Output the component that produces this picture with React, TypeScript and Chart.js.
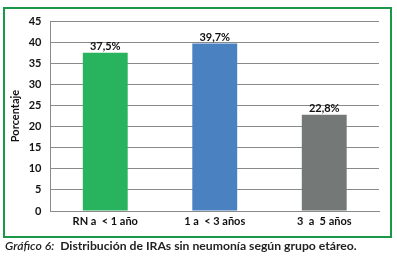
import React, { useEffect, useRef } from "react";
import { Chart, registerables } from "chart.js";

Chart.register(...registerables);

const categories = ["RN a  < 1 año", "1 a  < 3 años", "3  a  5 años"];
const values = [37.5, 39.7, 22.8];
const valueLabels = ["37,5%", "39,7%", "22,8%"];
const barColors = ["#28b35e", "#4a82c1", "#747978"];
const yTicks = [0, 5, 10, 15, 20, 25, 30, 35, 40, 45];

const FONT = "Lato, 'Open Sans', sans-serif";

const labelPlugin = {
  id: "valueLabels",
  afterDatasetsDraw(chart: any) {
    const { ctx } = chart;
    const meta = chart.getDatasetMeta(0);
    ctx.save();
    ctx.font = `bold 11px ${FONT}`;
    ctx.fillStyle = "#111";
    ctx.textAlign = "center";
    ctx.textBaseline = "bottom";
    meta.data.forEach((bar: any, i: number) => {
      ctx.fillText(valueLabels[i], bar.x, bar.y - 0.5);
    });
    ctx.restore();
  },
};

export default function App() {
  const ref = useRef<HTMLCanvasElement>(null);
  useEffect(() => {
    document.body.style.margin = "0";
    if (!ref.current) return;
    const chart = new Chart(ref.current, {
      type: "bar",
      data: {
        labels: categories,
        datasets: [
          {
            data: values,
            backgroundColor: barColors,
            barPercentage: 0.82,
            categoryPercentage: 0.5,
          },
        ],
      },
      options: {
        animation: false,
        responsive: false,
        maintainAspectRatio: false,
        layout: { padding: { left: 0, right: 18, top: 21, bottom: 30 } },
        plugins: { legend: { display: false }, tooltip: { enabled: false } },
        scales: {
          x: {
            grid: { display: false, drawTicks: false },
            border: { color: "#8a8a8a", width: 1 },
            ticks: {
              color: "#111",
              font: { family: FONT, size: 11, weight: "bold" },
              padding: 4,
            },
            afterFit: (s: any) => {
              s.height = 20;
            },
          },
          y: {
            min: 0,
            max: 45,
            afterBuildTicks: (s: any) => {
              s.ticks = yTicks.map((v) => ({ value: v }));
            },
            grid: { color: "#8a8a8a", lineWidth: 1, drawTicks: false },
            border: { color: "#8a8a8a", width: 1 },
            ticks: {
              color: "#111",
              font: { family: FONT, size: 11, weight: "bold" },
              padding: 9,
            },
            title: {
              display: true,
              text: "Porcentaje",
              color: "#111",
              font: { family: FONT, size: 11, weight: "bold" },
              padding: { top: 9, bottom: 0 },
            },
            afterFit: (s: any) => {
              s.width = 50.5;
            },
          },
        },
      },
      plugins: [labelPlugin],
    });
    return () => chart.destroy();
  }, []);

  return (
    <div style={{ position: "relative", width: 397, height: 261, background: "#fff" }}>
      <div
        style={{
          position: "absolute",
          left: 3,
          top: 7,
          width: 385,
          height: 227,
          border: "2px solid #1a9748",
        }}
      />
      <canvas
        ref={ref}
        width={397}
        height={261}
        style={{ position: "absolute", left: 0, top: 0, width: 397, height: 261 }}
      />
      <div
        style={{
          position: "absolute",
          left: 5,
          top: 238,
          whiteSpace: "pre",
          fontFamily: FONT,
          fontSize: 12.2,
          fontWeight: "bold",
          color: "#222",
        }}
      >
        <span style={{ fontStyle: "italic", fontWeight: 600 }}>Gráfico 6:</span>
        {"  Distribución de IRAs sin neumonía según grupo etáreo."}
      </div>
    </div>
  );
}
